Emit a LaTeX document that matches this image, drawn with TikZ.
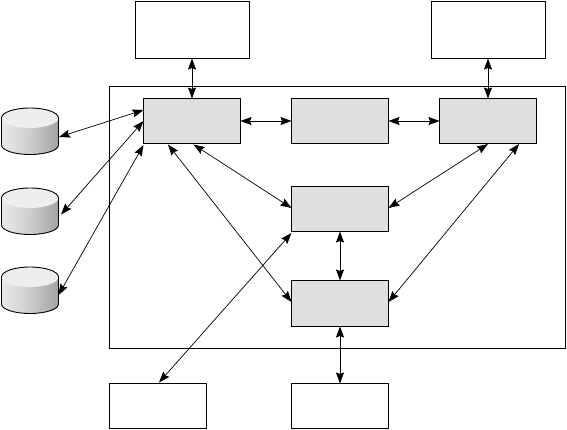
\documentclass[tikz,border=0pt]{standalone}
\usetikzlibrary{arrows.meta}
\definecolor{boxgray}{HTML}{DFDFDF}
\definecolor{sidelight}{HTML}{EAEAEA}
\definecolor{sidemid}{HTML}{CDCDCD}
\definecolor{sidedark}{HTML}{A2A2A2}
\definecolor{toplight}{HTML}{EEEEEE}
\tikzset{
  x=1pt,y=-1pt,
  plainbox/.style={draw=black,line width=0.9pt,fill=white,inner sep=0pt,outer sep=0pt,anchor=north west},
  graybox/.style={plainbox,fill=boxgray},
  frame/.style={draw=black,line width=0.9pt,inner sep=0pt,outer sep=0pt,anchor=north west},
  anchorbox/.style={inner sep=0pt,outer sep=0pt,minimum width=57pt,minimum height=46.5pt,anchor=north west},
  link/.style={black,line width=0.7pt,{Stealth[length=11pt,width=8pt,inset=1.5pt]}-{Stealth[length=11pt,width=8pt,inset=1.5pt]}},
  dbline/.style={draw=black,line width=0.9pt},
}
\newcommand{\dbcyl}[3]{%
  \node[anchorbox] (#1) at (#2,#3) {};
  \begin{scope}[shift={(#2,#3)}]
    \path[left color=sidelight,right color=sidedark,middle color=sidemid]
      (0,10) -- (0,37) arc[start angle=180,end angle=360,x radius=28.5pt,y radius=9.5pt] -- (57,10)
      arc[start angle=0,end angle=180,x radius=28.5pt,y radius=10pt] -- cycle;
    \path[fill=toplight] (28.5,10) ellipse[x radius=28.5pt,y radius=10pt];
    \path[dbline] (0,10) -- (0,37) arc[start angle=180,end angle=360,x radius=28.5pt,y radius=9.5pt] -- (57,10)
      arc[start angle=0,end angle=180,x radius=28.5pt,y radius=10pt] -- cycle;
  \end{scope}}
\begin{document}
\begin{tikzpicture}
\useasboundingbox (0,0) rectangle (567,429);
\node[frame,minimum width=456pt,minimum height=262pt] (outer) at (109.5,86.5) {};
\node[plainbox,minimum width=114pt,minimum height=57.5pt] (topa) at (135.5,1) {};
\node[plainbox,minimum width=114pt,minimum height=57.5pt] (topb) at (431.5,1) {};
\node[graybox,minimum width=97pt,minimum height=45pt] (A) at (143.5,98.5) {};
\node[graybox,minimum width=97pt,minimum height=45pt] (B) at (291.5,98.5) {};
\node[graybox,minimum width=97pt,minimum height=45pt] (C) at (439.5,98.5) {};
\node[graybox,minimum width=97pt,minimum height=45pt] (D) at (291.5,186.5) {};
\node[graybox,minimum width=97pt,minimum height=46pt] (E) at (291.5,280.5) {};
\node[plainbox,minimum width=97pt,minimum height=45pt] (bota) at (109.5,383.5) {};
\node[plainbox,minimum width=97pt,minimum height=45pt] (botb) at (291.5,383.5) {};
\dbcyl{dba}{1.5}{108}
\dbcyl{dbb}{1.5}{188}
\dbcyl{dbc}{1.5}{267}
\draw[link] (topa.south -| A.north) -- (A.north);
\draw[link] (topb.south -| C.north) -- (C.north);
\draw[link] (A.east) -- (B.west);
\draw[link] (B.east) -- (C.west);
\draw[link] (D.south) -- (E.north);
\draw[link] (E.south) -- (botb.north);
\draw[link] ([shift={(0.5,29)}]dba.north east) -- ([shift={(0,11.5)}]A.north west);
\draw[link] ([shift={(2.5,26.5)}]dbb.north east) -- ([shift={(0,22.5)}]A.north west);
\draw[link] ([shift={(0,28)}]dbc.north east) -- ([shift={(0,46.5)}]A.north west);
\draw[link] ([shift={(50,1)}]A.south west) -- ([shift={(0,21.5)}]D.north west);
\draw[link] ([shift={(24.5,1)}]A.south west) -- ([shift={(0,21.5)}]E.north west);
\draw[link] ([shift={(49.5,-1)}]bota.north west) -- ([shift={(0,1.5)}]D.south west);
\draw[link] ([shift={(0,21.5)}]D.north east) -- ([shift={(48.5,0.5)}]C.south west);
\draw[link] ([shift={(0,21.5)}]E.north east) -- ([shift={(79.5,0.5)}]C.south west);
\end{tikzpicture}
\end{document}
